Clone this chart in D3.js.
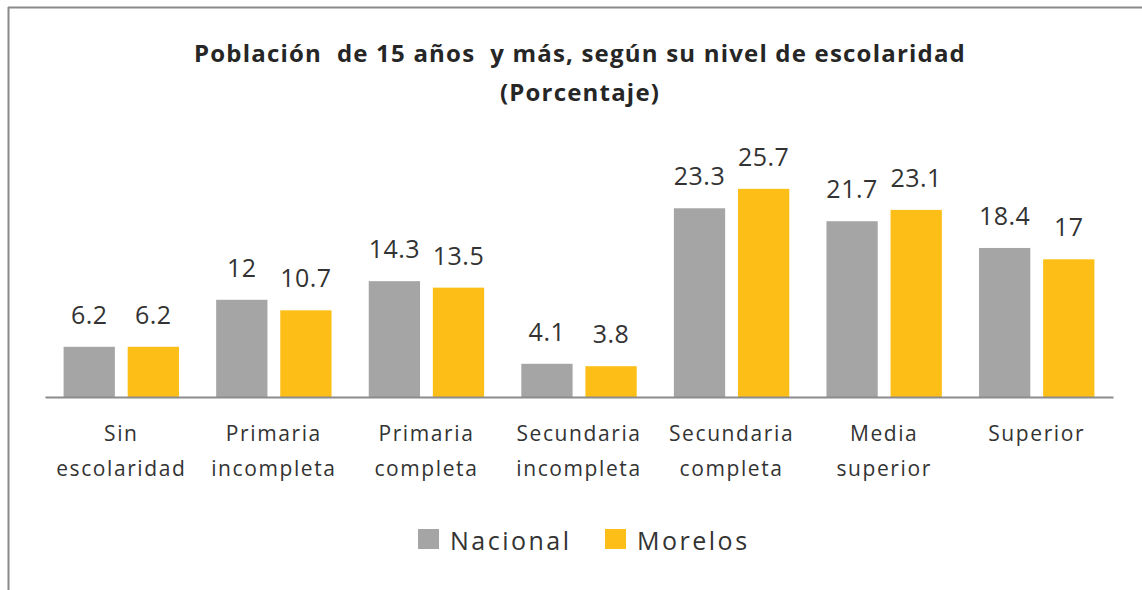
<!DOCTYPE html>
<html>
<head>
<meta charset="utf-8">
<script src="https://cdn.jsdelivr.net/npm/d3@7"></script>
<style>
  body { margin: 0; background: #fff; }
  svg { display: block; font-family: "Open Sans", sans-serif; }
</style>
</head>
<body>
<div id="chart-container"></div>
<script>
const categories = [
    "Sin escolaridad", "Primaria incompleta", "Primaria completa",
    "Secundaria incompleta", "Secundaria completa", "Media superior", "Superior"
];
const tickLines = [
    ["Sin", "escolaridad"],
    ["Primaria", "incompleta"],
    ["Primaria", "completa"],
    ["Secundaria", "incompleta"],
    ["Secundaria", "completa"],
    ["Media", "superior"],
    ["Superior"]
];
const seriesNames = ["Nacional", "Morelos"];
const nacional = [6.2, 12, 14.3, 4.1, 23.3, 21.7, 18.4];
const morelos = [6.2, 10.7, 13.5, 3.8, 25.7, 23.1, 17];
const colors = ["#A5A5A5", "#FDBF17"];

function renderChart() {
    const width = 1142;
    const height = 590;
    const baseY = 397;

    const svg = d3.select("#chart-container").append("svg")
        .attr("width", width)
        .attr("height", height);

    // frame: only top and left edges are visible
    svg.append("line")
        .attr("x1", 8).attr("x2", width).attr("y1", 7.5).attr("y2", 7.5)
        .attr("stroke", "#8a8a8a").attr("stroke-width", 2);
    svg.append("line")
        .attr("x1", 8.5).attr("x2", 8.5).attr("y1", 7).attr("y2", height)
        .attr("stroke", "#8a8a8a").attr("stroke-width", 2);

    const xScale = d3.scaleBand()
        .domain(categories)
        .range([45, 1113])
        .padding(0);

    const xSub = d3.scaleBand()
        .domain(seriesNames)
        .range([0, xScale.bandwidth()])
        .paddingInner(0.2)
        .paddingOuter(0.29);

    const yScale = d3.scaleLinear()
        .domain([0, 30])
        .range([baseY, baseY - 243]);

    const rows = categories.map((c, i) => ({
        category: c,
        values: [
            { series: seriesNames[0], value: nacional[i], color: colors[0] },
            { series: seriesNames[1], value: morelos[i], color: colors[1] }
        ]
    }));

    const groups = svg.selectAll(".group")
        .data(rows)
        .enter()
        .append("g")
        .attr("class", "group")
        .attr("transform", d => `translate(${xScale(d.category)},0)`);

    groups.selectAll("rect")
        .data(d => d.values)
        .enter()
        .append("rect")
        .attr("x", d => xSub(d.series))
        .attr("y", d => yScale(d.value))
        .attr("width", xSub.bandwidth())
        .attr("height", d => baseY - yScale(d.value))
        .attr("fill", d => d.color);

    groups.selectAll(".val")
        .data(d => d.values)
        .enter()
        .append("text")
        .attr("class", "val")
        .attr("x", d => xSub(d.series) + xSub.bandwidth() / 2)
        .attr("y", d => yScale(d.value) - 23)
        .attr("text-anchor", "middle")
        .style("font-size", "25px")
        .style("letter-spacing", "0.5px")
        .style("fill", "#333")
        .text(d => d.value);

    const axis = svg.append("g")
        .attr("transform", `translate(0,${baseY})`)
        .call(d3.axisBottom(xScale).tickSize(0).tickSizeOuter(0));

    axis.select(".domain")
        .attr("stroke", "#8c8c8c")
        .attr("stroke-width", 2);

    axis.selectAll(".tick text").each(function (d, i) {
        const t = d3.select(this);
        t.text(null)
            .attr("y", 0)
            .attr("dy", null)
            .style("font-size", "21px")
            .style("letter-spacing", "1.6px")
            .style("fill", "#333")
            .style("font-family", "'Open Sans', sans-serif");
        tickLines[i].forEach((line, k) => {
            t.append("tspan")
                .attr("x", 0)
                .attr("y", 44 + k * 35)
                .text(line);
        });
    });

    // title
    const titleLines = [
        "Población  de 15 años  y más, según su nivel de escolaridad",
        "(Porcentaje)"
    ];
    svg.selectAll(".title")
        .data(titleLines)
        .enter()
        .append("text")
        .attr("class", "title")
        .attr("x", 580)
        .attr("y", (d, i) => 62 + i * 39)
        .attr("text-anchor", "middle")
        .style("font-size", "24px")
        .style("font-weight", "bold")
        .style("letter-spacing", "1.2px")
        .style("white-space", "pre")
        .style("fill", "#262626")
        .text(d => d);

    // legend
    const legendX = [418, 605];
    const legend = svg.selectAll(".legend")
        .data(seriesNames)
        .enter()
        .append("g")
        .attr("class", "legend")
        .attr("transform", (d, i) => `translate(${legendX[i]},529)`);

    legend.append("rect")
        .attr("width", 21)
        .attr("height", 20)
        .attr("fill", (d, i) => colors[i]);

    legend.append("text")
        .attr("x", 32)
        .attr("y", 21)
        .style("font-size", "25px")
        .style("letter-spacing", "2.5px")
        .style("fill", "#333")
        .text(d => d);
}

window.onload = () => renderChart();
</script>
</body>
</html>
